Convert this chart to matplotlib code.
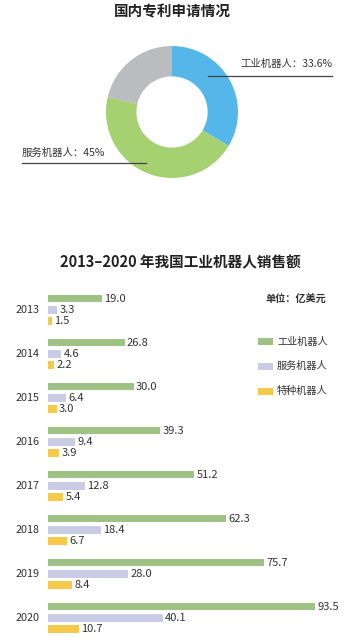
import matplotlib
matplotlib.use("Agg")
import matplotlib.pyplot as plt
from matplotlib.lines import Line2D
from matplotlib.patches import Rectangle
import numpy as np

plt.rcParams['font.family'] = ['Noto Sans CJK SC', 'DejaVu Sans']

# ---- data ----
pie_title = "国内专利申请情况"
pie_labels = ["工业机器人", "服务机器人", "特种机器人"]
pie_values = [33.6, 45.0, 21.4]
pie_colors = ["#55b6e9", "#a5d170", "#babcbf"]

bar_title = "2013–2020 年我国工业机器人销售额"
years = ["2013", "2014", "2015", "2016", "2017", "2018", "2019", "2020"]
industrial = [19.0, 26.8, 30.0, 39.3, 51.2, 62.3, 75.7, 93.5]
service = [3.3, 4.6, 6.4, 9.4, 12.8, 18.4, 28.0, 40.1]
special = [1.5, 2.2, 3.0, 3.9, 5.4, 6.7, 8.4, 10.7]
series_names = ["工业机器人", "服务机器人", "特种机器人"]
bar_colors = ["#9dc283", "#c9cce4", "#f5c94a"]
unit_text = "单位：亿美元"

W, H = 350, 638
fig = plt.figure(figsize=(W / 100, H / 100), dpi=100)
fig.patch.set_facecolor("white")

def fx(px):
    return px / W

def fy(py):
    return 1 - py / H

txt = "#333333"

# ---- pie ----
cx, cy, r = 172, 112, 66
axp = fig.add_axes([fx(cx - r), fy(cy + r), 2 * r / W, 2 * r / H])
axp.pie(pie_values, colors=pie_colors, startangle=90, counterclock=False,
        radius=1.0, wedgeprops=dict(width=0.46, linewidth=0))
axp.set_xlim(-1, 1)
axp.set_ylim(-1, 1)
axp.axis("off")

fig.text(fx(172), fy(11), pie_title, ha="center", va="center",
         fontsize=10.5, fontweight="bold", color="#222222")

fig.add_artist(Line2D([fx(208), fx(332)], [fy(76), fy(76)], color="#444444",
                      lw=0.9, transform=fig.transFigure))
fig.text(fx(332), fy(64), f"{pie_labels[0]}：{pie_values[0]}%", ha="right",
         va="center", fontsize=7.5, color=txt)
fig.add_artist(Line2D([fx(22), fx(146)], [fy(163), fy(163)], color="#444444",
                      lw=0.9, transform=fig.transFigure))
fig.text(fx(22), fy(153), f"{pie_labels[1]}：{pie_values[1]:g}%", ha="left",
         va="center", fontsize=7.5, color=txt)

# ---- bars ----
fig.text(fx(180), fy(262), bar_title, ha="center", va="center",
         fontsize=10.5, fontweight="bold", color="#222222")

ax_left, ax_right = 48, 330
ax_top, ax_bot = 288, 638
axb = fig.add_axes([fx(ax_left), fy(ax_bot), (ax_right - ax_left) / W,
                    (ax_bot - ax_top) / H])
group = 44.0
off = [0.0, 11.3, 22.3]
bh = 7.5
y0 = 298.5
idx = np.arange(len(years))
all_series = [industrial, service, special]
for s, (vals, col) in enumerate(zip(all_series, bar_colors)):
    ys = y0 + idx * group + off[s]
    axb.barh(ys, vals, height=bh, color=col, linewidth=0)
    for yv, v in zip(ys, vals):
        axb.text(v + 0.8, yv, f"{v:.1f}", ha="left", va="center",
                 fontsize=8, color=txt)
axb.set_ylim(ax_bot, ax_top)
axb.set_xlim(0, (ax_right - ax_left) / 2.856)
axb.axis("off")

for i, yr in enumerate(years):
    fig.text(fx(40), fy(y0 + i * group + off[1]), yr, ha="right",
             va="center", fontsize=7.8, color=txt)

# legend
fig.text(fx(326), fy(300), unit_text, ha="right", va="center",
         fontsize=7.3, fontweight="bold", color=txt)
for k, (name, col) in enumerate(zip(series_names, bar_colors)):
    yc = [341.5, 366, 391][k]
    fig.add_artist(Rectangle((fx(258), fy(yc + 3.5)), 15 / W, 7 / H,
                             facecolor=col, edgecolor="none",
                             transform=fig.transFigure))
    fig.text(fx(277), fy(yc), name, ha="left", va="center",
             fontsize=7.3, color=txt)

fig.savefig("out.png", dpi=100, facecolor="white")
